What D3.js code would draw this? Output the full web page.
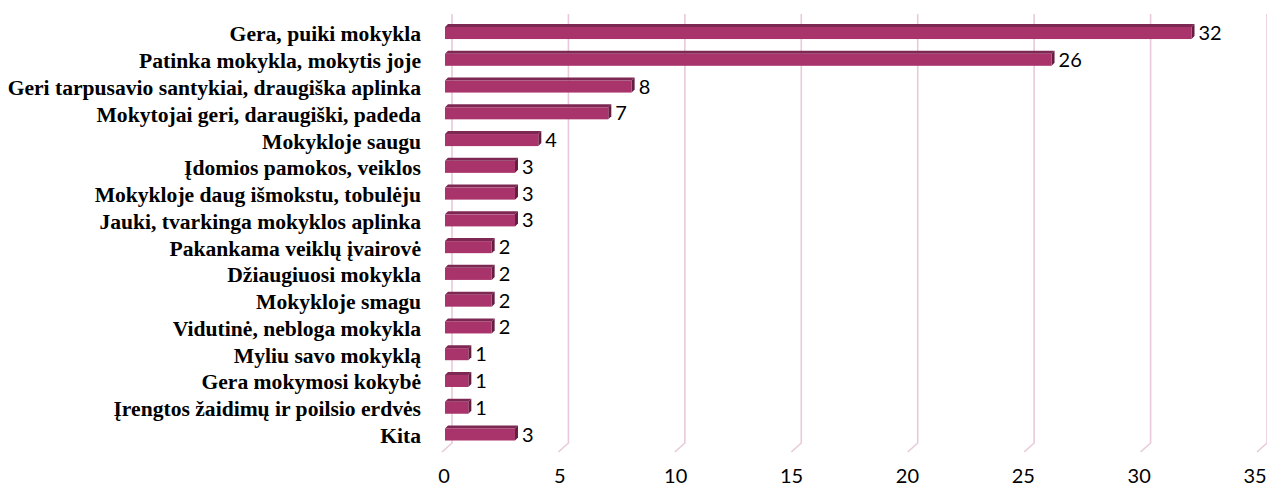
<!DOCTYPE html>
<html><head><meta charset="utf-8">
<script src="https://cdn.jsdelivr.net/npm/d3@7"></script>
<style>html,body{margin:0;padding:0;background:#fff;}svg{display:block;}</style>
</head><body>
<script>
const categories = [
  "Gera, puiki mokykla",
  "Patinka mokykla, mokytis joje",
  "Geri tarpusavio santykiai, draugiška aplinka",
  "Mokytojai geri, daraugiški, padeda",
  "Mokykloje saugu",
  "Įdomios pamokos, veiklos",
  "Mokykloje daug išmokstu, tobulėju",
  "Jauki, tvarkinga mokyklos aplinka",
  "Pakankama veiklų įvairovė",
  "Džiaugiuosi mokykla",
  "Mokykloje smagu",
  "Vidutinė, nebloga mokykla",
  "Myliu savo mokyklą",
  "Gera mokymosi kokybė",
  "Įrengtos žaidimų ir poilsio erdvės",
  "Kita"
];
const values = [32, 26, 8, 7, 4, 3, 3, 3, 2, 2, 2, 2, 1, 1, 1, 3];
const tickValues = [0, 5, 10, 15, 20, 25, 30, 35];

const W = 1267, H = 486;
const svg = d3.select("body").append("svg").attr("width", W).attr("height", H);

// 3D offsets
const dx = 10;                // back wall offset relative to front floor
const bdx = 3, bdy = -3;      // bar depth

const xFront = d3.scaleLinear().domain([0, 35]).range([442, 1257]);
const xBar = d3.scaleLinear().domain([0, 35]).range([445, 1261.5]);
const xTick = d3.scaleLinear().domain([0, 35]).range([444, 1255]);
const y = d3.scaleBand().domain(categories).range([19.5, 448]).paddingInner(0.55).paddingOuter(0.28);

const gridTop = 14, floorBack = 443, floorFront = 452;
const gridColor = "#e8cadb";

// gridlines (back wall verticals + floor diagonals)
const g = svg.append("g");
tickValues.forEach(t => {
  const xb = xFront(t) + dx;
  g.append("path")
    .attr("d", `M${xb},${gridTop}V${floorBack}L${xFront(t)},${floorFront}`)
    .attr("fill", "none").attr("stroke", gridColor).attr("stroke-width", 1.6);
});

// bars
const bars = svg.append("g").selectAll("g").data(categories).join("g");
bars.each(function(c, i) {
  const sel = d3.select(this);
  const x0 = xBar(0), x1 = xBar(values[i]);
  const y0 = y(c), h = y.bandwidth();
  // top face
  sel.append("path")
    .attr("d", `M${x0},${y0}L${x0+bdx},${y0+bdy}L${x1+bdx},${y0+bdy}L${x1},${y0}Z`)
    .attr("fill", "#7d2853");
  // side face
  sel.append("path")
    .attr("d", `M${x1},${y0}L${x1+bdx},${y0+bdy}L${x1+bdx},${y0+h+bdy}L${x1},${y0+h}Z`)
    .attr("fill", "#661d42");
  // front face
  sel.append("rect")
    .attr("x", x0).attr("y", y0).attr("width", x1 - x0).attr("height", h)
    .attr("fill", "#a9346b");
  // value label
  sel.append("text")
    .attr("x", x1 + 7).attr("y", y0 + h / 2 + 2)
    .attr("dominant-baseline", "middle")
    .attr("font-family", "Lato, 'Open Sans', sans-serif")
    .attr("font-size", 20).attr("fill", "#000")
    .text(values[i]);
});

// category labels
svg.append("g").selectAll("text").data(categories).join("text")
  .attr("x", 421)
  .attr("y", d => y(d) + y.bandwidth() / 2 + 3.5)
  .attr("text-anchor", "end").attr("dominant-baseline", "middle")
  .attr("font-family", "'Liberation Serif', 'Times New Roman', serif")
  .attr("font-weight", "bold").attr("font-size", 21.6).attr("fill", "#000")
  .text(d => d);

// x axis tick labels
svg.append("g").selectAll("text").data(tickValues).join("text")
  .attr("x", d => xTick(d))
  .attr("y", 478)
  .attr("text-anchor", "middle").attr("dominant-baseline", "middle")
  .attr("font-family", "Lato, 'Open Sans', sans-serif")
  .attr("font-size", 20).attr("fill", "#000")
  .text(d => d);
</script>
</body></html>
